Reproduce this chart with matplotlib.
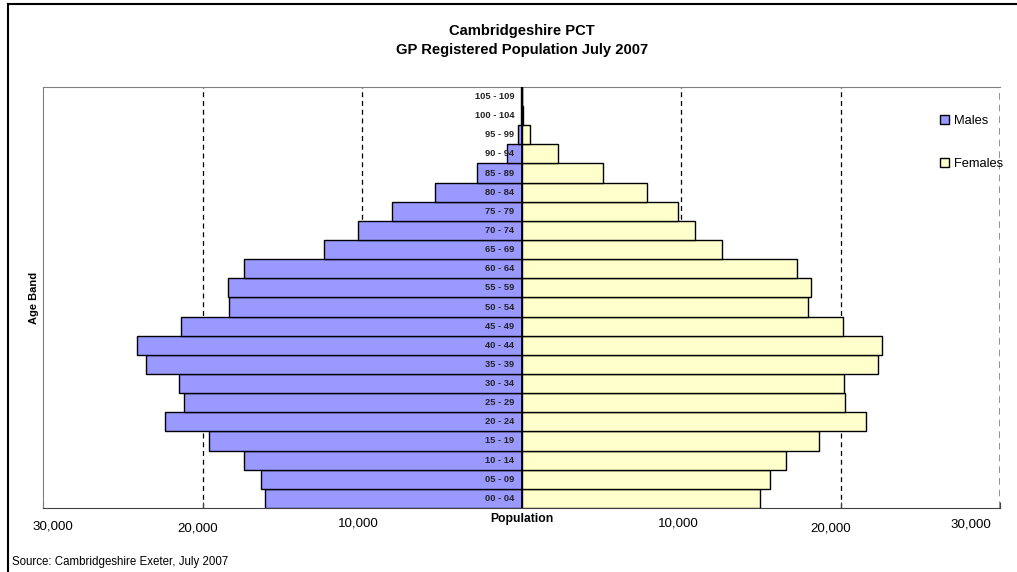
import matplotlib
matplotlib.use("Agg")
import matplotlib.pyplot as plt
from matplotlib.lines import Line2D
import numpy as np

plt.rcParams['font.family'] = ['Liberation Sans', 'DejaVu Sans']

age_bands = ["00 - 04", "05 - 09", "10 - 14", "15 - 19", "20 - 24", "25 - 29",
             "30 - 34", "35 - 39", "40 - 44", "45 - 49", "50 - 54", "55 - 59",
             "60 - 64", "65 - 69", "70 - 74", "75 - 79", "80 - 84", "85 - 89",
             "90 - 94", "95 - 99", "100 - 104", "105 - 109"]
males = [16100, 16360, 17370, 19620, 22380, 21130, 21500, 23570, 24080, 21380,
         18310, 18430, 17370, 12410, 10280, 8150, 5450, 2760, 940, 190, 30, 2]
females = [14980, 15610, 16610, 18620, 21570, 20250, 20190, 22320, 22570, 20130,
           17930, 18120, 17300, 12540, 10850, 9840, 7840, 5080, 2260, 560, 80, 10]
tick_vals = [-30000, -20000, -10000, 10000, 20000, 30000]

fig = plt.figure(figsize=(10.17, 5.72), dpi=100)
# chart frame: only left and top edges are inside the picture
fig.lines.append(Line2D([0.0075, 0.0075], [0.0, 0.993], transform=fig.transFigure,
                        color='black', linewidth=1.5))
fig.lines.append(Line2D([0.0075, 1.0], [0.993, 0.993], transform=fig.transFigure,
                        color='black', linewidth=1.5))
ax = fig.add_axes([0.0423, 0.112, 0.9410, 0.736])

y = np.arange(len(age_bands))
ax.barh(y, -np.array(males), height=1.0, color='#9999FF', edgecolor='black',
        linewidth=1, label='Males', zorder=3)
ax.barh(y, females, height=1.0, color='#FFFFCC', edgecolor='black',
        linewidth=1, label='Females', zorder=3)

ax.set_xlim(-30000, 30000)
ax.set_ylim(-0.5, len(age_bands) - 0.5)

for v in [-20000, -10000, 10000, 20000]:
    ax.axvline(v, color='black', linestyle=(0, (4, 3)), linewidth=0.9, zorder=1)
ax.axvline(30000, color='#808080', linestyle=(0, (4, 3)), linewidth=1.2, zorder=1)
ax.axvline(0, color='black', linewidth=1.2, zorder=4)

for i, lab in enumerate(age_bands):
    ax.text(-450, i, lab, ha='right', va='center', fontsize=6.7,
            fontweight='bold', color='#222222', zorder=5)

ax.set_yticks([])
ax.set_xticks(tick_vals)
ax.set_xticklabels([])
ax.tick_params(axis='x', direction='in', length=4, colors='#404040')
# tick labels sit slightly off the tick positions, as in the original
label_pos = [(0.010, -0.045), (0.162, -0.048), (0.330, -0.036),
             (0.664, -0.036), (0.823, -0.048), (0.970, -0.039)]
for v, (lx, ly) in zip(tick_vals, label_pos):
    ax.text(lx, ly, f"{abs(v):,}", transform=ax.transAxes, ha='center',
            va='center', fontsize=9.6)
for s in ['top', 'left']:
    ax.spines[s].set_color('#808080')
ax.spines['right'].set_visible(False)
ax.spines['bottom'].set_color('#404040')

ax.set_ylabel('Age Band', fontsize=8, fontweight='bold', labelpad=3)
ax.text(0, -0.75, 'Population', ha='center', va='top', fontsize=8.7,
        fontweight='bold')

fig.text(0.513, 0.958, 'Cambridgeshire PCT\nGP Registered Population July 2007',
         ha='center', va='top', fontsize=10.6, fontweight='bold', linespacing=1.45)
fig.text(0.012, 0.013, 'Source: Cambridgeshire Exeter, July 2007', fontsize=8.3)

ax.legend(loc='upper left', bbox_to_anchor=(0.925, 0.962), frameon=False,
          fontsize=9.3, handlelength=0.7, handleheight=0.7, labelspacing=2.4,
          handletextpad=0.4)

fig.savefig('out.png', dpi=100)
